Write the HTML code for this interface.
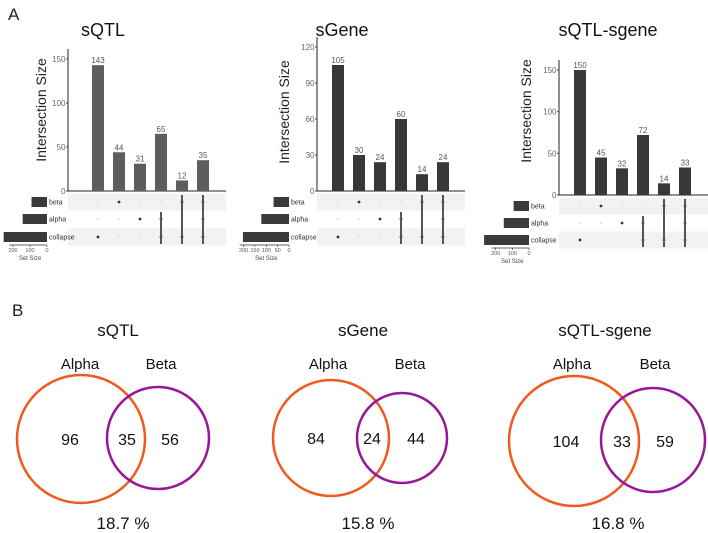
<!DOCTYPE html>
<html><head><meta charset="utf-8"><style>
html,body{margin:0;padding:0;background:#fff;}
svg{display:block;font-family:"Liberation Sans",Arial,sans-serif;}
</style></head><body>
<svg id="fig" width="708" height="533" viewBox="0 0 708 533">
<text x="8" y="20" font-size="17" fill="#222">A</text>
<text x="12" y="316" font-size="17" fill="#222">B</text>
</svg>
<script>
// ---- UpSet data ----
const upsetTitles = ["sQTL", "sGene", "sQTL-sgene"];
const sqtlCounts = [143, 44, 31, 65, 12, 35];
const sgeneCounts = [105, 30, 24, 60, 14, 24];
const bothCounts = [150, 45, 32, 72, 14, 33];
const setNames = ["beta", "alpha", "collapse"];
// membership per intersection column: [beta, alpha, collapse]
const membership = [[0,0,1],[1,0,0],[0,1,0],[0,1,1],[1,0,1],[1,1,1]];
const sqtlSetSizes = [91, 143, 255];
const sgeneSetSizes = [68, 122, 203];
const bothSetSizes = [92, 151, 269];
const sqtlYTicks = [0, 50, 100, 150];
const sgeneYTicks = [0, 30, 60, 90, 120];
const bothYTicks = [0, 50, 100, 150];
const sqtlSizeTicks = [200, 100, 0];
const sgeneSizeTicks = [200, 150, 100, 50, 0];
const bothSizeTicks = [200, 100, 0];
// ---- Venn data ----
const vennTitles = ["sQTL", "sGene", "sQTL-sgene"];
const vennAlphaOnly = [96, 84, 104];
const vennShared = [35, 24, 33];
const vennBetaOnly = [56, 44, 59];
const vennPercent = ["18.7 %", "15.8 %", "16.8 %"];

const NS = "http://www.w3.org/2000/svg";
const svg = document.getElementById("fig");
function mk(tag, attrs, parent, txt) {
  const e = document.createElementNS(NS, tag);
  for (const k in attrs) e.setAttribute(k, attrs[k]);
  if (txt !== undefined) e.textContent = txt;
  (parent || svg).appendChild(e);
  return e;
}

const layouts = [
  {ax:68, x0:92, y0:191, ymax:150, ypx:132, rows:[202,219,237], mEnd:226, sEnd:47, sScale:0.17, barCol:"#5e5e5e", titleX:103, ytX:46, ytY:110, counts:sqtlCounts, sizes:sqtlSetSizes, yt:sqtlYTicks, st:sqtlSizeTicks},
  {ax:317, x0:332, y0:191, ymax:120, ypx:144, rows:[202,219,237], mEnd:465, sEnd:289, sScale:0.227, barCol:"#383838", titleX:342, ytX:289, ytY:112, counts:sgeneCounts, sizes:sgeneSetSizes, yt:sgeneYTicks, st:sgeneSizeTicks},
  {ax:559, x0:574, y0:195, ymax:150, ypx:125, rows:[206,223,240], mEnd:708, sEnd:529, sScale:0.167, barCol:"#383838", titleX:608, ytX:531, ytY:111, counts:bothCounts, sizes:bothSetSizes, yt:bothYTicks, st:bothSizeTicks}
];

layouts.forEach((L, i) => {
  const g = mk("g", {});
  
  
  const yS = v => L.y0 - v / L.ymax * L.ypx;
  const pitch = 21, bw = 12;
  const t = mk("text", {x:L.titleX, y:36, "font-size":18, "text-anchor":"middle", fill:"#111"}, g, upsetTitles[i]);
  
  
  const yt = mk("text", {x:L.ytX, y:L.ytY, "font-size":14, "text-anchor":"middle", fill:"#222", transform:`rotate(-90 ${L.ytX} ${L.ytY})`}, g, "Intersection Size");
  
  
  L.rows.forEach((ry, r) => {
    if (r !== 1) {
      const s = mk("rect", {x:L.ax, y:ry-8.5, width:L.mEnd-L.ax, height:17, fill:"#f2f2f2"}, g);
      
      
    }
  });
  const topTick = Math.max(...L.yt);
  const axl = mk("line", {x1:L.ax, y1:Math.min(yS(topTick), L.y0-L.ypx)-10, x2:L.ax, y2:L.y0, stroke:"#222", "stroke-width":1}, g);
  
  
  const bl = mk("line", {x1:L.ax, y1:L.y0, x2:L.mEnd, y2:L.y0, stroke:"#222", "stroke-width":1}, g);
  
  
  L.yt.forEach(v => {
    mk("line", {x1:L.ax-2, y1:yS(v), x2:L.ax, y2:yS(v), stroke:"#444"}, g);
    const tl = mk("text", {x:L.ax-2.5, y:yS(v)+3, "font-size":8, "text-anchor":"end", fill:"#666"}, g, v);
    
    
  });
  L.counts.forEach((c, j) => {
    const x = L.x0 + j * pitch;
    const b = mk("rect", {x:x, y:yS(c), width:bw, height:L.y0-yS(c), fill:L.barCol}, g);
    
    
    const lt = mk("text", {x:x+bw/2, y:yS(c)-2, "font-size":8, "text-anchor":"middle", fill:"#555"}, g, c);
    
    
    const m = membership[j];
    const ys = [];
    m.forEach((on, r) => {
      if (on) ys.push(L.rows[r]);
      const d = mk("circle", {cx:x+bw/2, cy:L.rows[r], r:on?1.4:1, fill:on?"#333":"#ddd"}, g);
      
      
    });
    if (ys.length > 1) {
      const ln = mk("line", {x1:x+bw/2, y1:Math.min(...ys)-7, x2:x+bw/2, y2:Math.max(...ys)+7, stroke:"#555", "stroke-width":2}, g);
      
      
    }
  });
  L.sizes.forEach((s, r) => {
    const w = s * L.sScale;
    const sb = mk("rect", {x:L.sEnd-w, y:L.rows[r]-5, width:w, height:10, fill:"#3a3a3a"}, g);
    
    
    const sl = mk("text", {x:L.sEnd+2, y:L.rows[r]+2.5, "font-size":7, fill:"#333"}, g, setNames[r]);
    
    
  });
  const axY = L.rows[2] + 8;
  const maxT = Math.max(...L.st);
  mk("line", {x1:L.sEnd-maxT*L.sScale-4, y1:axY, x2:L.sEnd, y2:axY, stroke:"#333", "stroke-width":0.8}, g);
  L.st.forEach(v => {
    const tx = L.sEnd - v * L.sScale;
    mk("line", {x1:tx, y1:axY, x2:tx, y2:axY+2, stroke:"#333", "stroke-width":0.6}, g);
    const st = mk("text", {x:tx, y:axY+7, "font-size":5.5, "text-anchor":"middle", fill:"#555"}, g, v);
    
    
  });
  const sst = mk("text", {x:L.sEnd - maxT*L.sScale/2, y:axY+15, "font-size":6, "text-anchor":"middle", fill:"#444"}, g, "Set Size");
  
  
});

const vennLayouts = [
  {titleX:118, ax:81, ay:439, ar:64, bx:158, by:438, br:51, n1:70, n2:127, n3:170, la:80, lb:161, px:123},
  {titleX:363, ax:331, ay:438, ar:58, bx:402, by:438, br:45, n1:316, n2:372, n3:416, la:328, lb:410, px:368},
  {titleX:605, ax:574, ay:441, ar:65, bx:653, by:440, br:52, n1:566, n2:622, n3:665, la:572, lb:655, px:618}
];
vennLayouts.forEach((V, i) => {
  const g = mk("g", {});
  
  
  const t = mk("text", {x:V.titleX, y:336, "font-size":17, "text-anchor":"middle", fill:"#111"}, g, vennTitles[i]);
  
  
  const a = mk("circle", {cx:V.ax, cy:V.ay, r:V.ar, fill:"none", stroke:"#f05a1e", "stroke-width":2.5}, g);
  
  
  const b = mk("circle", {cx:V.bx, cy:V.by, r:V.br, fill:"none", stroke:"#99169a", "stroke-width":2.5}, g);
  
  
  const la = mk("text", {x:V.la, y:369, "font-size":15, "text-anchor":"middle", fill:"#111"}, g, "Alpha");
  
  
  const lb = mk("text", {x:V.lb, y:369, "font-size":15, "text-anchor":"middle", fill:"#111"}, g, "Beta");
  
  
  [[V.n1, vennAlphaOnly[i], 'alpha-only-count'], [V.n2, vennShared[i], 'shared-count'], [V.n3, vennBetaOnly[i], 'beta-only-count']].forEach(([x, v, nm]) => {
    const n = mk("text", {x:x, y:V.ay+6, "font-size":16, "text-anchor":"middle", fill:"#111"}, g, v);
    
    
  });
  const p = mk("text", {x:V.px, y:529, "font-size":17, "text-anchor":"middle", fill:"#111"}, g, vennPercent[i]);
  
  
});
</script>
</body></html>
